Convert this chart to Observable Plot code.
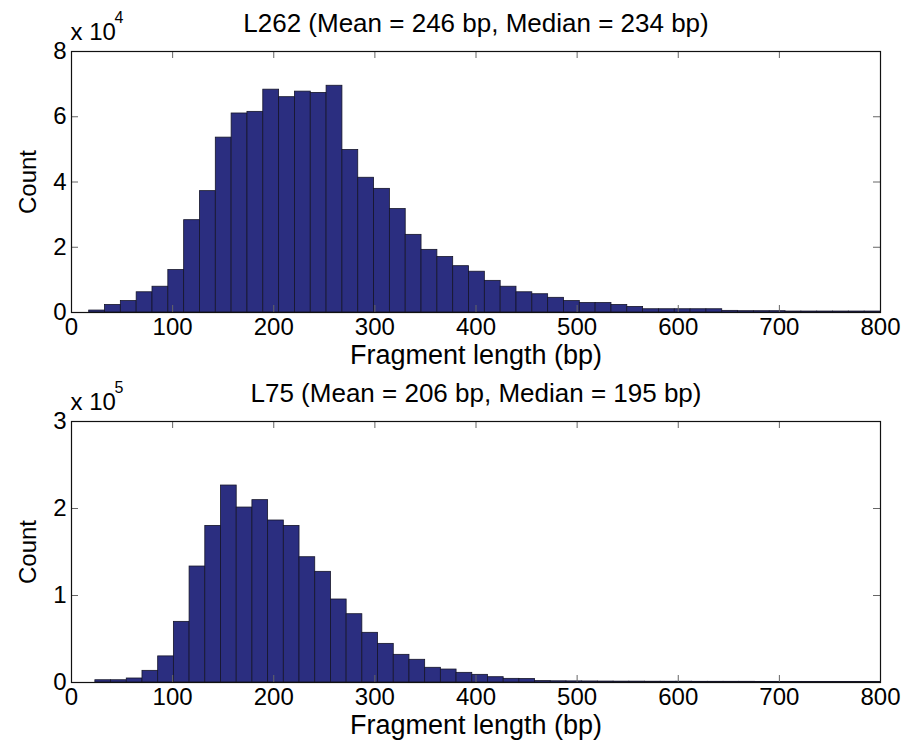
<!DOCTYPE html>
<html>
<head>
<meta charset="utf-8">
<script src="https://cdn.jsdelivr.net/npm/d3@7"></script>
<script src="https://cdn.jsdelivr.net/npm/@observablehq/plot@0.6"></script>
<style>
  html, body { margin: 0; padding: 0; background: #fff; }
  #wrap { position: relative; width: 908px; height: 747px; }
  #top, #bot { position: absolute; left: 0; }
  #top { top: 0; }
  #bot { top: 380px; }
</style>
</head>
<body>
<div id="wrap"><div id="top"></div><div id="bot"></div></div>
<script>
// ---- Data ----
// L262 histogram: 50 bins of ~15.65 bp starting at ~17.5 bp
const topTitle = "L262 (Mean = 246 bp, Median = 234 bp)";
const topBinStart = 17.5;
const topBinWidth = 15.65;
const topCounts = [
  600, 2300, 3500, 6200, 7900, 13000, 28300, 37200, 53600, 61000,
  61500, 68300, 66000, 67700, 67300, 69500, 49800, 41300, 37900, 31700,
  23800, 19200, 17000, 14200, 12500, 9700, 7900, 6200, 5600, 4500,
  3500, 2900, 2900, 2300, 1700, 1000, 1000, 1000, 1000, 1000,
  500, 400, 400, 400, 300, 300, 300, 300, 300, 300
];
const topYTicks = [0, 2e4, 4e4, 6e4, 8e4];
const topExponent = "4";

// L75 histogram: 50 bins of ~15.53 bp starting at ~23.6 bp
const botTitle = "L75 (Mean = 206 bp, Median = 195 bp)";
const botBinStart = 23.6;
const botBinWidth = 15.53;
const botCounts = [
  2600, 2600, 4600, 13400, 30000, 69700, 133300, 180000, 226400, 201100,
  209600, 186200, 180000, 144000, 127200, 95400, 78500, 57100, 44400, 31800,
  26100, 16900, 14900, 11100, 8800, 6100, 4200, 4000, 1600, 1400,
  1300, 1200, 1100, 1000, 1000, 900, 900, 900, 800, 800,
  800, 800, 700, 700, 700, 700, 700, 700, 700, 700
];
const botYTicks = [0, 1e5, 2e5, 3e5];
const botExponent = "5";

const xTicks = [0, 100, 200, 300, 400, 500, 600, 700, 800];
const xLabel = "Fragment length (bp)";
const yLabel = "Count";

// ---- Drawing ----
const FONT = "'Liberation Sans', Arial, Helvetica, sans-serif";
const W = 908, ML = 71, MR = 28;

function chart({counts, binStart, binWidth, yTicks, scaleDiv, exponent, title, height, marginTop, marginBottom}) {
  const bins = counts.map((c, i) => ({
    x1: binStart + i * binWidth,
    x2: binStart + (i + 1) * binWidth,
    count: c
  }));
  const fh = height - marginTop - marginBottom;
  const fw = W - ML - MR;
  const tickLen = 7;
  return Plot.plot({
    width: W, height, marginTop, marginBottom, marginLeft: ML, marginRight: MR,
    style: {fontFamily: FONT, fontSize: "24px", color: "#000", background: "#fff", overflow: "visible"},
    x: {domain: [0, 800], label: null},
    y: {domain: [0, yTicks[yTicks.length - 1]], label: null},
    marks: [
      Plot.rectY(bins, {x1: "x1", x2: "x2", y: "count", fill: "#2b2e80", stroke: "#15152a", strokeWidth: 0.8, clip: true}),
      Plot.tickX(xTicks, {x: d => d, insetTop: fh - tickLen, stroke: "#666", strokeWidth: 1}),
      Plot.tickX(xTicks, {x: d => d, insetBottom: fh - tickLen, stroke: "#666", strokeWidth: 1}),
      Plot.tickY(yTicks, {y: d => d, insetRight: fw - tickLen, stroke: "#666", strokeWidth: 1}),
      Plot.tickY(yTicks, {y: d => d, insetLeft: fw - tickLen, stroke: "#666", strokeWidth: 1}),
      Plot.frame({stroke: "#111", strokeWidth: 1.2}),
      Plot.axisX(xTicks, {tickSize: 0, tickPadding: 5, fontSize: 24, fill: "#000", label: null}),
      Plot.axisY(yTicks, {tickSize: 0, tickPadding: 5, fontSize: 24, fill: "#000", label: null, tickFormat: d => d / scaleDiv}),
      Plot.text([title], {frameAnchor: "top", lineAnchor: "middle", textAnchor: "middle", dy: -28, fontSize: 26, fill: "#000"}),
      Plot.text([yLabel], {frameAnchor: "left", lineAnchor: "middle", textAnchor: "middle", rotate: -90, dx: -43, fontSize: 24, fill: "#000"}),
      Plot.text([xLabel], {frameAnchor: "bottom", lineAnchor: "middle", textAnchor: "middle", dy: 43, fontSize: 27, fill: "#000"}),
      Plot.text(["x 10"], {frameAnchor: "top-left", lineAnchor: "middle", textAnchor: "start", dx: -1, dy: -19, fontSize: 24, fill: "#000"}),
      Plot.text([exponent], {frameAnchor: "top-left", lineAnchor: "middle", textAnchor: "start", dx: 43, dy: -34, fontSize: 16, fill: "#000"})
    ]
  });
}

document.getElementById("top").append(chart({
  counts: topCounts, binStart: topBinStart, binWidth: topBinWidth,
  yTicks: topYTicks, scaleDiv: 1e4, exponent: topExponent, title: topTitle,
  height: 380, marginTop: 51, marginBottom: 68
}));
document.getElementById("bot").append(chart({
  counts: botCounts, binStart: botBinStart, binWidth: botBinWidth,
  yTicks: botYTicks, scaleDiv: 1e5, exponent: botExponent, title: botTitle,
  height: 367, marginTop: 41, marginBottom: 65
}));
</script>
</body>
</html>
